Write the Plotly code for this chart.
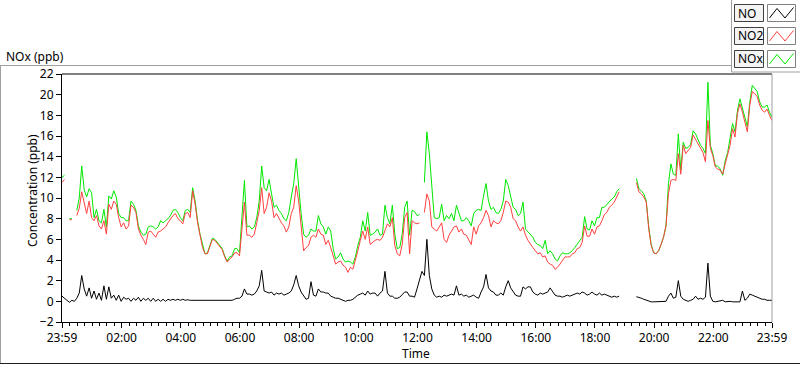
import pandas as pd
import plotly.graph_objects as go

# 5-minute samples starting at 23:59 of the previous day (289 points to 23:59)
times = pd.date_range("2024-01-01 23:59", periods=289, freq="5min")

nox = [
    12.0, 12.2, None, 8.0, 8.0, None, 8.8, 10.0, 13.1, 10.8, 10.1, 10.9,
    10.5, 8.1, 8.9, 7.8, 7.6, 8.9, 7.2, 10.2, 9.9, 10.7, 10.1, 8.5,
    8.1, 8.1, 7.8, 7.8, 9.7, 9.4, 8.8, 7.3, 6.7, 6.4, 6.5, 7.2,
    7.3, 7.2, 7.0, 7.2, 7.8, 7.6, 7.8, 8.0, 8.3, 8.8, 8.9, 8.6,
    8.1, 7.8, 8.8, 8.9, 8.6, 11.0, 9.7, 7.8, 6.5, 5.4, 4.6, 4.7,
    5.4, 6.1, 6.0, 5.7, 5.5, 5.1, 4.4, 3.9, 4.3, 4.4, 5.1, 5.1,
    4.7, 7.8, 11.7, 7.2, 7.3, 7.0, 7.2, 8.1, 9.7, 13.1, 11.0, 10.7,
    11.8, 10.4, 9.1, 9.3, 8.8, 8.5, 8.0, 7.8, 8.6, 10.1, 11.4, 13.8,
    10.7, 8.5, 6.5, 6.2, 6.4, 7.0, 6.8, 6.8, 8.3, 7.5, 7.2, 6.5,
    7.2, 6.8, 5.1, 4.1, 4.3, 4.7, 4.1, 3.8, 3.9, 3.8, 3.6, 4.3,
    5.4, 6.2, 7.8, 6.8, 8.6, 6.4, 6.5, 6.7, 7.0, 6.4, 6.5, 9.3,
    8.1, 7.5, 9.3, 6.5, 5.1, 5.2, 6.5, 9.1, 9.7, 6.4, 8.8, 8.7,
    8.3, 8.4, None, 11.5, 16.4, 14.3, 11.0, 8.1, 8.0, 8.1, 9.4, 7.8,
    8.3, 8.0, 8.5, 7.8, 9.3, 8.6, 7.8, 7.8, 8.1, 7.8, 7.3, 8.5,
    8.8, 8.9, 8.8, 10.2, 11.4, 9.7, 8.9, 9.1, 8.6, 8.5, 8.9, 9.7,
    11.8, 11.2, 10.2, 9.1, 8.9, 8.3, 8.5, 9.6, 7.0, 6.7, 6.4, 6.2,
    5.7, 5.5, 5.4, 5.1, 5.9, 4.6, 4.9, 4.6, 4.1, 3.9, 4.4, 4.7,
    4.6, 4.6, 4.7, 4.9, 5.2, 5.5, 5.9, 6.2, 8.2, 7.0, 6.9, 7.8,
    7.3, 8.1, 8.1, 9.1, 9.1, 9.4, 9.7, 9.9, 10.1, 10.6, 10.9, None,
    None, None, None, None, None, 11.9, 10.9, 10.7, 10.4, 9.7, 7.2, 5.5,
    4.7, 4.6, 4.9, 5.5, 6.2, 7.3, 11.4, 13.3, 12.3, 12.2, 16.2, 12.7,
    15.4, 14.8, 14.9, 15.2, 16.5, 16.2, 15.7, 15.1, 14.8, 14.3, 21.2, 15.1,
    14.3, 13.1, 13.1, 12.8, 12.2, 13.6, 14.4, 15.7, 17.2, 16.4, 18.5, 19.6,
    18.6, 17.7, 16.9, 19.3, 20.9, 20.6, 20.3, 19.3, 18.8, 18.8, 19.0, 18.3,
    17.8,
]

no2 = [
    11.5, 11.8, None, 7.9, 7.9, None, 8.3, 9.0, 10.6, 9.4, 8.5, 9.7,
    8.1, 7.8, 8.3, 7.3, 7.0, 7.8, 6.5, 9.4, 8.9, 9.7, 9.4, 8.1,
    7.2, 7.6, 7.0, 7.3, 9.3, 9.1, 8.6, 7.0, 6.4, 6.0, 5.5, 6.7,
    6.8, 6.5, 6.2, 6.7, 6.8, 7.0, 7.2, 7.6, 8.0, 8.3, 8.5, 8.0,
    7.8, 7.5, 8.5, 8.6, 8.1, 10.7, 9.4, 7.6, 6.4, 5.2, 4.6, 4.6,
    5.3, 6.0, 5.9, 5.6, 5.4, 5.0, 4.3, 3.8, 4.1, 4.3, 4.7, 4.7,
    4.4, 7.0, 9.6, 6.4, 6.4, 6.2, 6.5, 7.6, 8.8, 11.0, 8.5, 9.1,
    10.5, 9.7, 8.1, 8.5, 8.0, 7.6, 7.3, 6.7, 7.2, 8.5, 9.1, 11.2,
    9.7, 7.2, 4.9, 5.2, 5.4, 6.2, 6.4, 6.2, 7.0, 6.5, 6.4, 5.5,
    5.9, 5.2, 4.4, 3.6, 3.8, 3.9, 3.5, 3.3, 2.8, 3.3, 3.1, 3.9,
    4.9, 5.9, 6.8, 6.0, 7.2, 5.5, 5.7, 5.9, 6.0, 5.9, 6.2, 6.8,
    7.5, 7.2, 8.1, 5.4, 4.6, 4.4, 5.5, 8.1, 8.6, 4.6, 7.8, 7.6,
    7.5, 7.6, None, 8.6, 10.4, 9.7, 7.2, 7.0, 6.8, 7.2, 7.6, 6.0,
    5.7, 6.4, 6.8, 7.2, 7.3, 6.7, 7.0, 6.5, 6.4, 5.9, 5.5, 7.2,
    6.5, 7.3, 7.6, 8.1, 8.8, 8.3, 7.2, 7.8, 7.6, 7.5, 7.8, 8.6,
    9.7, 9.6, 9.1, 8.0, 7.8, 7.2, 6.8, 7.2, 6.4, 5.9, 5.5, 5.2,
    4.9, 4.6, 4.7, 4.3, 4.4, 3.8, 3.6, 3.5, 3.1, 3.3, 3.6, 3.9,
    4.3, 4.3, 4.3, 4.6, 4.7, 5.1, 5.2, 5.7, 7.3, 6.3, 6.3, 7.0,
    6.5, 7.2, 7.3, 7.8, 8.4, 8.6, 9.1, 9.3, 9.6, 10.1, 10.6, None,
    None, None, None, None, None, 11.5, 10.6, 10.4, 10.1, 9.6, 7.0, 5.4,
    4.7, 4.6, 4.9, 5.5, 6.2, 7.3, 10.4, 11.7, 11.8, 11.7, 14.3, 12.3,
    15.1, 14.3, 14.6, 14.9, 16.1, 15.7, 15.2, 14.8, 14.4, 13.5, 17.5, 14.8,
    14.1, 13.0, 12.8, 12.7, 12.3, 13.3, 14.1, 15.1, 16.7, 15.9, 18.2, 19.1,
    18.3, 17.2, 16.4, 19.0, 20.3, 20.1, 19.8, 19.0, 18.5, 18.3, 18.6, 18.0,
    17.5,
]

no = [
    0.5, 0.3, 0.1, -0.1, 0.1, 0.0, 0.3, 0.8, 2.5, 1.2, 0.5, 1.3,
    0.3, 1.0, 0.2, 0.8, 0.1, 1.5, 0.2, 1.4, 0.3, 0.6, 0.1, 0.6,
    0.0, 0.4, 0.2, 0.3, 0.0, 0.3, 0.1, 0.4, 0.0, 0.3, 0.1, 0.3,
    0.0, 0.3, 0.0, 0.2, 0.0, 0.2, 0.0, 0.2, 0.1, 0.2, 0.1, 0.2,
    0.1, 0.2, 0.1, 0.15, 0.1, 0.1, 0.05, 0.1, 0.05, 0.05, 0.05, 0.05,
    0.05, 0.05, 0.05, 0.05, 0.05, 0.05, 0.05, 0.1, 0.1, 0.1, 0.2, 0.3,
    0.3, 0.5, 1.2, 0.7, 0.7, 0.6, 0.7, 1.0, 1.5, 3.0, 1.0, 0.9,
    0.8, 0.9, 0.6, 0.8, 0.7, 0.8, 0.6, 0.7, 0.8, 1.0, 1.6, 2.5,
    1.5, 0.9, 0.5, 0.2, 0.3, 1.9, 0.6, 0.5, 1.2, 0.9, 0.9, 0.8,
    0.8, 0.5, 0.4, 0.3, 0.3, 0.2, 0.1, 0.0, 0.1, 0.1, 0.2, 0.4,
    0.6, 0.7, 0.8, 0.6, 1.0, 0.7, 0.8, 0.8, 0.5, 0.8, 1.0, 2.9,
    0.8, 0.5, 0.5, 0.3, 0.3, 0.4, 0.7, 0.9, 0.9, 0.5, 0.5, 0.4,
    1.2, 2.0, 2.9, 2.5, 6.0, 2.5, 1.2, 0.6, 0.4, 0.5, 0.4, 0.6,
    0.5, 0.6, 0.7, 0.6, 1.5, 0.6, 0.7, 0.5, 0.6, 0.4, 0.5, 0.6,
    0.4, 0.3, 0.9, 1.4, 2.6, 1.3, 1.0, 0.9, 0.6, 0.6, 0.8, 0.6,
    1.4, 2.0, 1.3, 1.0, 0.6, 0.5, 0.5, 1.4, 1.2, 1.4, 1.4, 0.9,
    0.7, 0.6, 0.8, 0.7, 0.8, 0.9, 1.3, 1.0, 0.6, 0.5, 0.5, 0.4,
    0.5, 0.6, 0.5, 0.6, 0.7, 0.8, 0.7, 0.9, 0.8, 0.6, 0.7, 0.9,
    0.7, 0.6, 0.8, 0.6, 0.7, 0.6, 0.5, 0.4, 0.5, 0.4, 0.5, None,
    None, None, None, None, None, 0.45, 0.4, 0.3, 0.2, 0.1, 0.0, -0.05,
    -0.05, -0.05, -0.05, -0.05, -0.05, 0.0, 0.5, 0.8, 0.3, 0.4, 2.0, 0.5,
    0.2, 0.1, 0.0, 0.1, 0.2, 0.5, 0.2, 0.3, 0.2, 0.4, 3.7, 0.5,
    0.0, -0.05, 0.0, 0.0, 0.1, -0.05, 0.0, 0.0, -0.05, -0.05, -0.05, -0.05,
    1.0, 0.1, 0.3, 0.7, 0.6, 0.5, 0.4, 0.3, 0.2, 0.2, 0.1, 0.1,
    0.1,
]

series_names = ["NO", "NO2", "NOx"]
series_colors = ["#000000", "#ff4040", "#00e800"]

tick_times = ["2024-01-01 23:59", "2024-01-02 02:00", "2024-01-02 04:00", "2024-01-02 06:00",
              "2024-01-02 08:00", "2024-01-02 10:00", "2024-01-02 12:00", "2024-01-02 14:00",
              "2024-01-02 16:00", "2024-01-02 18:00", "2024-01-02 20:00", "2024-01-02 22:00",
              "2024-01-02 23:59"]
tick_labels = ["23:59", "02:00", "04:00", "06:00", "08:00", "10:00", "12:00", "14:00",
               "16:00", "18:00", "20:00", "22:00", "23:59"]
y_ticks = list(range(-2, 23, 2))

FONT = "Segoe UI, Noto Sans, DejaVu Sans, sans-serif"
W, H = 800, 365
L, R, T, B = 62, 28, 74, 43
PW, PH = W - L - R, H - T - B


def px(x):
    return (x - L) / PW


def py(y):
    return (H - B - y) / PH


fig = go.Figure()
for name, vals, col in [("NOx", nox, series_colors[2]), ("NO2", no2, series_colors[1]), ("NO", no, series_colors[0])]:
    fig.add_trace(go.Scatter(x=times, y=vals, mode="lines", name=name,
                             line=dict(color=col, width=1), connectgaps=False,
                             hoverinfo="skip"))

GREY = "#a0a0a0"
shapes = [
    # plot border top (black) and right (grey)
    dict(type="line", xref="paper", yref="paper", x0=0, x1=1, y0=1, y1=1, line=dict(color="black", width=1)),
    dict(type="line", xref="paper", yref="paper", x0=1, x1=1, y0=0, y1=1, line=dict(color=GREY, width=1)),
    # outer frame
    dict(type="line", xref="paper", yref="paper", x0=px(0), x1=px(731), y0=py(65.5), y1=py(65.5), line=dict(color=GREY, width=1)),
    dict(type="line", xref="paper", yref="paper", x0=px(0.5), x1=px(0.5), y0=py(65.5), y1=py(364), line=dict(color=GREY, width=1)),
    dict(type="line", xref="paper", yref="paper", x0=px(0), x1=px(800), y0=py(363.5), y1=py(363.5), line=dict(color="#202020", width=1)),
    # legend container
    dict(type="line", xref="paper", yref="paper", x0=px(731.5), x1=px(731.5), y0=py(0), y1=py(72), line=dict(color=GREY, width=1)),
    dict(type="line", xref="paper", yref="paper", x0=px(731.5), x1=px(800), y0=py(72), y1=py(72), line=dict(color=GREY, width=1)),
]

annotations = [
    dict(text="NOx (ppb)", x=px(4), y=py(56), xref="paper", yref="paper", xanchor="left", yanchor="middle",
         showarrow=False, font=dict(family=FONT, size=12, color="black")),
    dict(text="Concentration (ppb)", x=px(32), y=py(191), xref="paper", yref="paper", xanchor="center", yanchor="middle",
         textangle=-90, showarrow=False, font=dict(family=FONT, size=12, color="black")),
    dict(text="Time", x=px(416), y=py(353), xref="paper", yref="paper", xanchor="center", yanchor="middle",
         showarrow=False, font=dict(family=FONT, size=12, color="black")),
]

row_tops = [4, 27, 50]
for name, col, top in zip(series_names, series_colors, row_tops):
    shapes.append(dict(type="rect", xref="paper", yref="paper", x0=px(734.5), x1=px(763.5), y0=py(top + 0.5), y1=py(top + 17.5),
                       fillcolor="#f4f4f4", line=dict(color="#404040", width=1)))
    shapes.append(dict(type="rect", xref="paper", yref="paper", x0=px(767.5), x1=px(795.5), y0=py(top + 0.5), y1=py(top + 17.5),
                       fillcolor="white", line=dict(color="#808080", width=1)))
    pts = [(769.5, top + 14), (777, top + 4.5), (785, top + 14), (793.5, top + 3.5)]
    path = "M " + " L ".join(f"{px(a):.5f},{py(b):.5f}" for a, b in pts)
    shapes.append(dict(type="path", xref="paper", yref="paper", path=path, line=dict(color=col, width=1)))
    annotations.append(dict(text=name, x=px(736), y=py(top + 9), xref="paper", yref="paper", xanchor="left", yanchor="middle",
                            showarrow=False, font=dict(family=FONT, size=12, color="black")))

fig.update_layout(
    width=W, height=H,
    margin=dict(l=L, r=R, t=T, b=B, pad=0),
    paper_bgcolor="white", plot_bgcolor="white",
    showlegend=False,
    font=dict(family=FONT, size=12, color="black"),
    shapes=shapes,
    annotations=annotations,
    xaxis=dict(
        type="date",
        range=["2024-01-01 23:59", "2024-01-02 23:59"],
        tickmode="array", tickvals=tick_times, ticktext=tick_labels,
        ticks="outside", ticklen=5, tickcolor="black", tickwidth=1,
        minor=dict(ticks="outside", ticklen=3, tickcolor="black", dtick=15 * 60 * 1000,
                   tick0="2024-01-02 00:00", showgrid=False),
        showline=True, linecolor="black", linewidth=1,
        showgrid=False, zeroline=False,
        tickfont=dict(family=FONT, size=12, color="black"),
    ),
    yaxis=dict(
        range=[-2, 22], tickmode="array", tickvals=y_ticks,
        ticks="outside", ticklen=5, tickcolor="black", tickwidth=1,
        showline=True, linecolor="black", linewidth=1,
        showgrid=False, zeroline=False,
        tickfont=dict(family=FONT, size=12, color="black"),
    ),
)

fig.write_html("out.html", config=dict(displayModeBar=False, staticPlot=True),
               post_script="document.body.style.margin='0';document.body.style.overflow='hidden';")
